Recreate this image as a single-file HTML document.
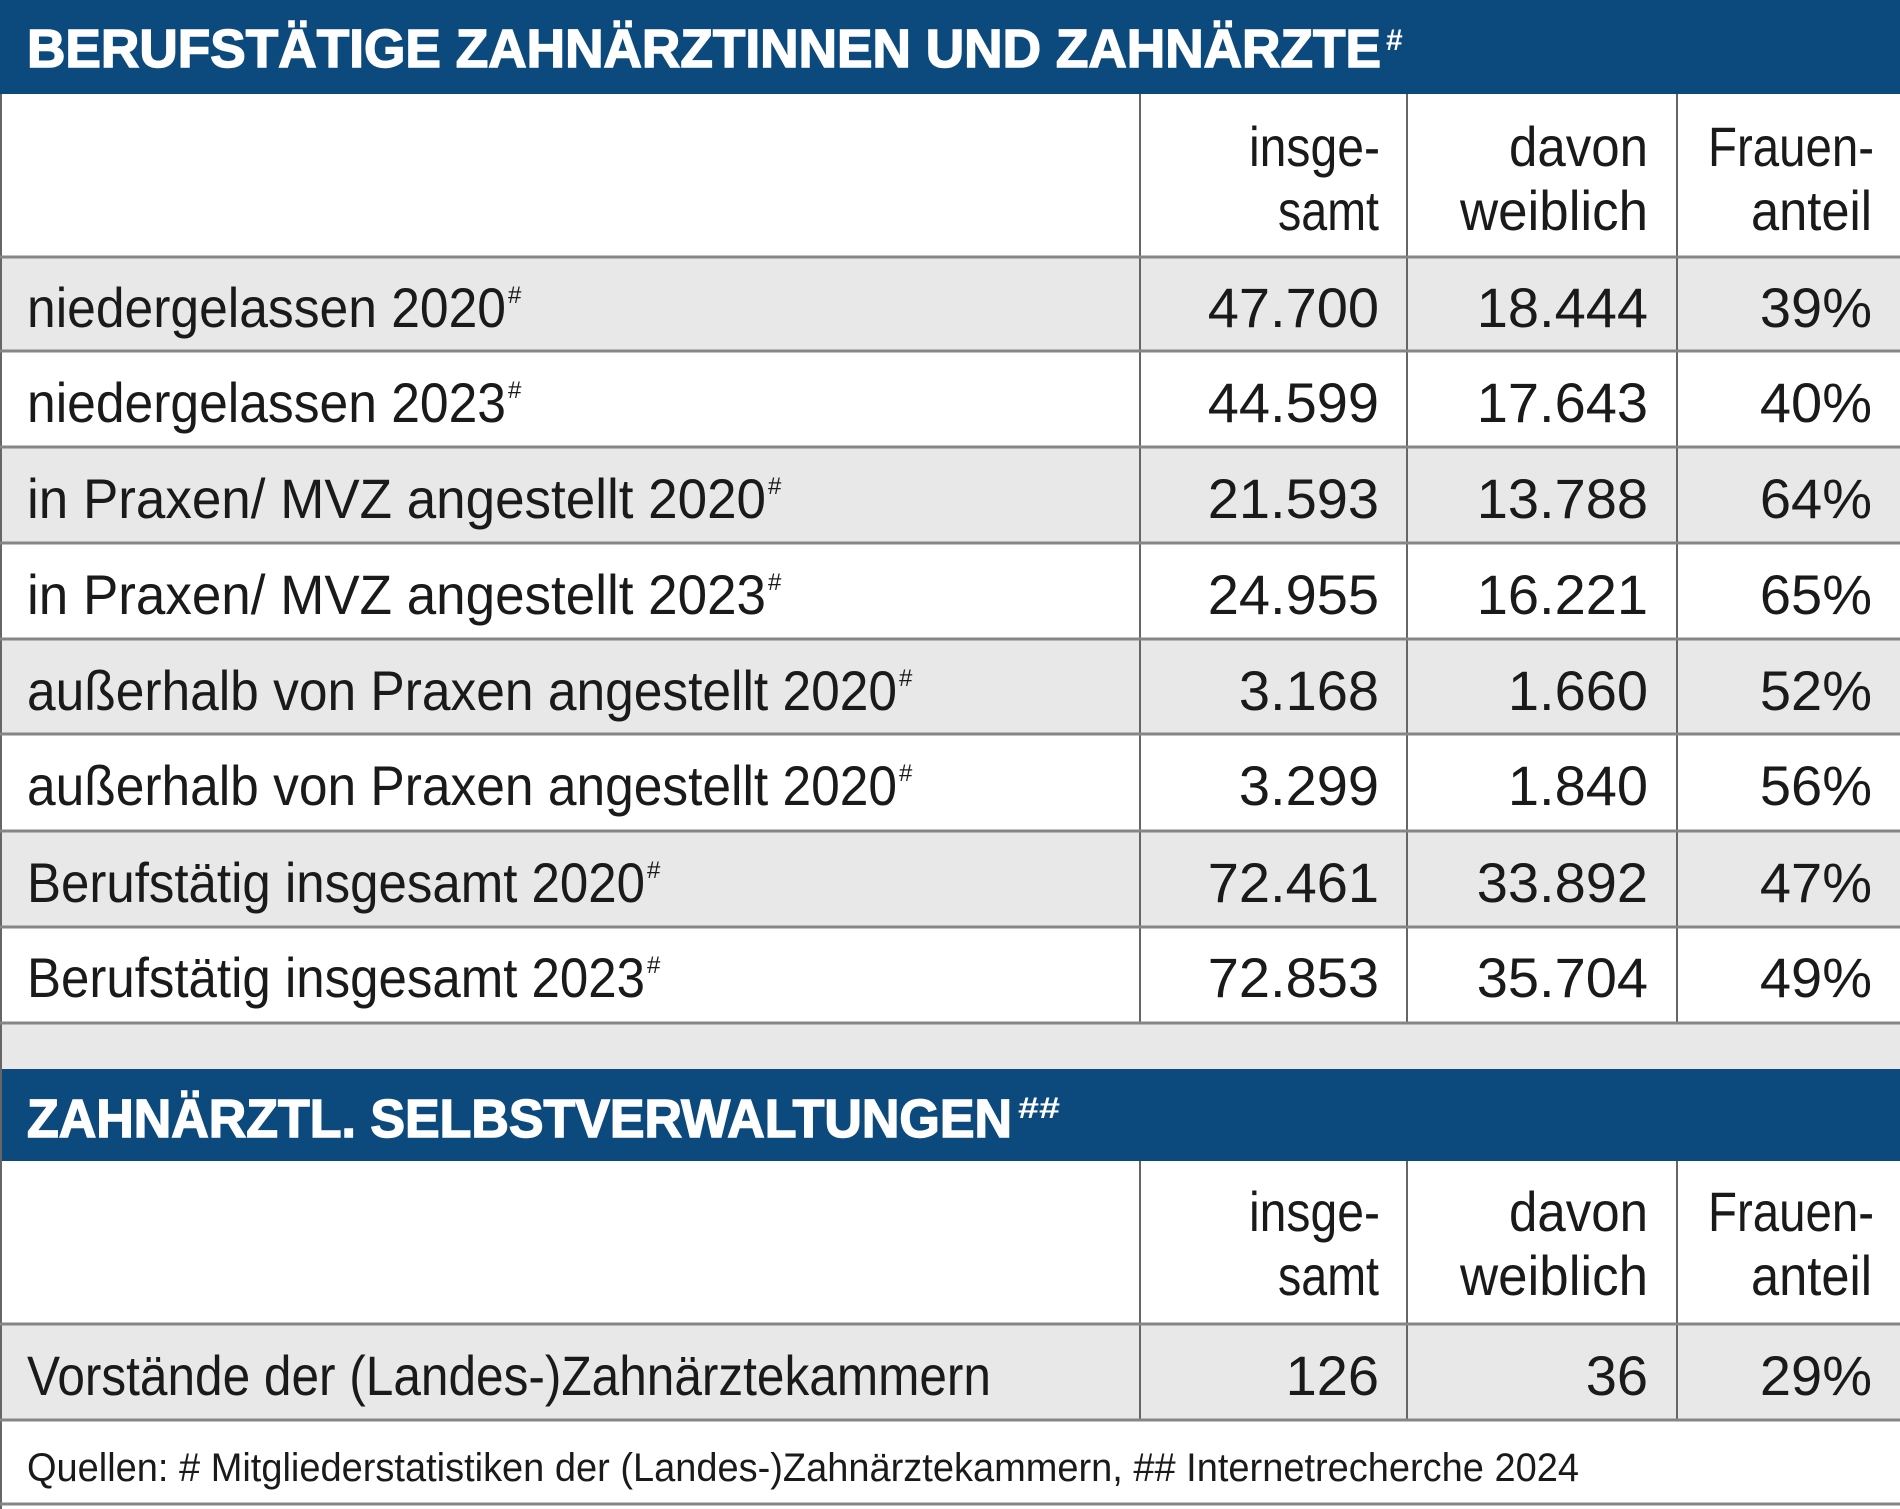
<!DOCTYPE html>
<html><head><meta charset="utf-8"><style>html,body{margin:0;padding:0;background:#fff}svg{display:block}</style></head>
<body>
<svg width="1900" height="1509" viewBox="0 0 1900 1509" xmlns="http://www.w3.org/2000/svg" font-family="Liberation Sans, sans-serif">
<rect width="1900" height="1509" fill="#fff"/>
<rect x="0" y="0" width="1900" height="94" fill="#0c4a7e"/>
<text x="27" y="67" font-size="54" font-weight="bold" fill="#fff" stroke="#fff" stroke-width="1.5" textLength="1354" lengthAdjust="spacingAndGlyphs">BERUFSTÄTIGE ZAHNÄRZTINNEN UND ZAHNÄRZTE</text>
<text x="1386" y="50" font-size="30" font-weight="bold" fill="#fff">#</text>
<g fill="#e8e8e8">
<rect x="0" y="257" width="1900" height="94"/>
<rect x="0" y="447" width="1900" height="96"/>
<rect x="0" y="639" width="1900" height="95"/>
<rect x="0" y="831" width="1900" height="96"/>
<rect x="0" y="1023" width="1900" height="46"/>
<rect x="0" y="1324" width="1900" height="96"/>
</g>
<rect x="0" y="1069" width="1900" height="92" fill="#0c4a7e"/>
<text x="27" y="1137" font-size="54" font-weight="bold" fill="#fff" stroke="#fff" stroke-width="1.5" textLength="985" lengthAdjust="spacingAndGlyphs">ZAHNÄRZTL. SELBSTVERWALTUNGEN</text>
<text x="1018" y="1118" font-size="30" font-weight="bold" fill="#fff" textLength="42" lengthAdjust="spacingAndGlyphs">##</text>
<g stroke="#666" stroke-width="2">
<line x1="1140" y1="94" x2="1140" y2="1023"/><line x1="1407" y1="94" x2="1407" y2="1023"/><line x1="1677" y1="94" x2="1677" y2="1023"/>
<line x1="1140" y1="1161" x2="1140" y2="1420"/><line x1="1407" y1="1161" x2="1407" y2="1420"/><line x1="1677" y1="1161" x2="1677" y2="1420"/>
<line x1="1" y1="94" x2="1" y2="1509"/>
</g>
<g stroke="#868686" stroke-width="3">
<line x1="0" y1="257" x2="1900" y2="257"/><line x1="0" y1="351" x2="1900" y2="351"/><line x1="0" y1="447" x2="1900" y2="447"/>
<line x1="0" y1="543" x2="1900" y2="543"/><line x1="0" y1="639" x2="1900" y2="639"/><line x1="0" y1="734" x2="1900" y2="734"/>
<line x1="0" y1="831" x2="1900" y2="831"/><line x1="0" y1="927" x2="1900" y2="927"/><line x1="0" y1="1023" x2="1900" y2="1023"/>
<line x1="0" y1="1324" x2="1900" y2="1324"/><line x1="0" y1="1420" x2="1900" y2="1420"/><line x1="0" y1="1504" x2="1900" y2="1504"/>
</g>
<g font-size="56" fill="#1a1a1a">
<g text-anchor="end">
<text x="1380" y="166" textLength="131" lengthAdjust="spacingAndGlyphs">insge-</text>
<text x="1379" y="230" textLength="101" lengthAdjust="spacingAndGlyphs">samt</text>
<text x="1648" y="166" textLength="139" lengthAdjust="spacingAndGlyphs">davon</text>
<text x="1648" y="230" textLength="188" lengthAdjust="spacingAndGlyphs">weiblich</text>
<text x="1874" y="166" textLength="166" lengthAdjust="spacingAndGlyphs">Frauen-</text>
<text x="1872" y="230" textLength="121" lengthAdjust="spacingAndGlyphs">anteil</text>
<text x="1380" y="1231" textLength="131" lengthAdjust="spacingAndGlyphs">insge-</text>
<text x="1379" y="1295" textLength="101" lengthAdjust="spacingAndGlyphs">samt</text>
<text x="1648" y="1231" textLength="139" lengthAdjust="spacingAndGlyphs">davon</text>
<text x="1648" y="1295" textLength="188" lengthAdjust="spacingAndGlyphs">weiblich</text>
<text x="1874" y="1231" textLength="166" lengthAdjust="spacingAndGlyphs">Frauen-</text>
<text x="1872" y="1295" textLength="121" lengthAdjust="spacingAndGlyphs">anteil</text>
</g>
<text x="27" y="327" textLength="479" lengthAdjust="spacingAndGlyphs">niedergelassen 2020</text><text x="508" y="303" font-size="24">#</text>
<text x="27" y="422" textLength="479" lengthAdjust="spacingAndGlyphs">niedergelassen 2023</text><text x="508" y="398" font-size="24">#</text>
<text x="27" y="518" textLength="739" lengthAdjust="spacingAndGlyphs">in Praxen/ MVZ angestellt 2020</text><text x="768" y="494" font-size="24">#</text>
<text x="27" y="614" textLength="739" lengthAdjust="spacingAndGlyphs">in Praxen/ MVZ angestellt 2023</text><text x="768" y="590" font-size="24">#</text>
<text x="27" y="710" textLength="870" lengthAdjust="spacingAndGlyphs">außerhalb von Praxen angestellt 2020</text><text x="899" y="686" font-size="24">#</text>
<text x="27" y="805" textLength="870" lengthAdjust="spacingAndGlyphs">außerhalb von Praxen angestellt 2020</text><text x="899" y="781" font-size="24">#</text>
<text x="27" y="902" textLength="618" lengthAdjust="spacingAndGlyphs">Berufstätig insgesamt 2020</text><text x="647" y="878" font-size="24">#</text>
<text x="27" y="997" textLength="618" lengthAdjust="spacingAndGlyphs">Berufstätig insgesamt 2023</text><text x="647" y="973" font-size="24">#</text>
<text x="27" y="1395" textLength="964" lengthAdjust="spacingAndGlyphs">Vorstände der (Landes-)Zahnärztekammern</text>
<g text-anchor="end">
<text x="1379" y="327">47.700</text><text x="1648" y="327">18.444</text><text x="1872" y="327">39%</text>
<text x="1379" y="422">44.599</text><text x="1648" y="422">17.643</text><text x="1872" y="422">40%</text>
<text x="1379" y="518">21.593</text><text x="1648" y="518">13.788</text><text x="1872" y="518">64%</text>
<text x="1379" y="614">24.955</text><text x="1648" y="614">16.221</text><text x="1872" y="614">65%</text>
<text x="1379" y="710">3.168</text><text x="1648" y="710">1.660</text><text x="1872" y="710">52%</text>
<text x="1379" y="805">3.299</text><text x="1648" y="805">1.840</text><text x="1872" y="805">56%</text>
<text x="1379" y="902">72.461</text><text x="1648" y="902">33.892</text><text x="1872" y="902">47%</text>
<text x="1379" y="997">72.853</text><text x="1648" y="997">35.704</text><text x="1872" y="997">49%</text>
<text x="1379" y="1395">126</text><text x="1648" y="1395">36</text><text x="1872" y="1395">29%</text>
</g>
</g>
<text x="27" y="1481" font-size="40" fill="#1a1a1a" textLength="1552" lengthAdjust="spacingAndGlyphs">Quellen: # Mitgliederstatistiken der (Landes-)Zahnärztekammern, ## Internetrecherche 2024</text>
</svg>
</body></html>
